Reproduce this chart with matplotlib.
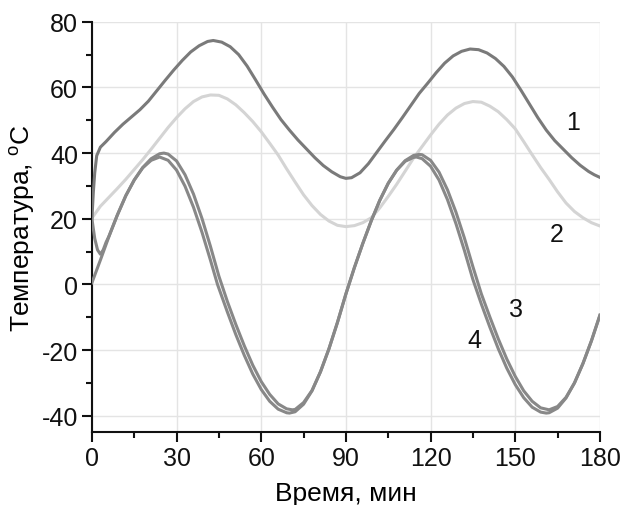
import matplotlib
matplotlib.use("Agg")
import matplotlib.pyplot as plt
from matplotlib.ticker import MultipleLocator

plt.rcParams['font.family'] = ['Liberation Sans', 'DejaVu Sans']
plt.rcParams['mathtext.fontset'] = 'custom'
plt.rcParams['mathtext.rm'] = 'Liberation Sans'
plt.rcParams['axes.unicode_minus'] = False

# curve 1
t1 = [0, 0.5, 1, 1.7, 3, 5, 8, 11, 14, 17, 20, 23, 26, 29, 32, 35, 38, 41, 43, 46, 49, 52,
      55, 58, 61, 64, 67, 70, 73, 76, 79, 82, 85, 88, 90, 92, 95, 98, 101, 104, 107, 110,
      113, 116, 119, 122, 125, 128, 131, 134, 137, 140, 143, 146, 149, 152, 155, 158, 161,
      164, 167, 170, 173, 176, 178, 180]
T1 = [20, 28, 34, 39.2, 41.8, 43.5, 46.3, 48.8, 51, 53.2, 55.8, 59, 62.2, 65.3, 68.2, 70.8,
      72.7, 74, 74.3, 73.8, 72.4, 70, 66.5, 62.3, 58, 54, 50.2, 47, 44, 41.3, 38.6, 36.2,
      34.3, 32.8, 32.3, 32.5, 34, 36.8, 40.3, 43.8, 47.2, 50.8, 54.5, 58.2, 61.3, 64.5, 67.4,
      69.6, 71, 71.7, 71.5, 70.5, 68.8, 66.4, 63.2, 59.2, 55, 50.8, 47, 43.8, 41.2, 38.6,
      36.3, 34.4, 33.4, 32.6]

# curve 2
t2 = [0, 3, 6, 9, 12, 15, 18, 21, 24, 27, 30, 33, 36, 39, 42, 45, 48, 51, 54, 57, 60, 63,
      66, 69, 72, 75, 78, 81, 84, 87, 90, 93, 96, 99, 102, 105, 108, 111, 114, 117, 120,
      123, 126, 129, 132, 135, 138, 141, 144, 147, 150, 153, 156, 159, 162, 165, 168, 171,
      174, 177, 180]
T2 = [20.2, 23.8, 26.5, 29.2, 32, 35, 38, 41.2, 44.5, 47.8, 50.8, 53.5, 55.7, 57.1, 57.7,
      57.6, 56.5, 54.7, 52.3, 49.6, 46.5, 43, 39.4, 35.2, 31.2, 27.3, 24, 21.3, 19.3, 18,
      17.6, 17.9, 18.8, 20.3, 23.3, 26.8, 30.5, 34.5, 38.5, 42, 45.5, 48.8, 51.6, 53.7,
      55.1, 55.7, 55.5, 54.3, 52.6, 50.2, 47.4, 43.5, 39.5, 35.6, 32, 28.2, 24.8, 22.2,
      20.3, 18.8, 17.8]

# curve 3
t3 = [0, 1, 2, 3, 4, 5, 6, 9, 12, 15, 18, 21, 24, 25.5, 27, 30, 33, 36, 39, 42, 45, 48,
      51, 54, 57, 60, 63, 66, 69, 71, 72, 75, 78, 81, 84, 87, 90, 93, 96, 99, 102, 105, 108,
      111, 114, 116, 117, 120, 123, 126, 129, 132, 135, 138, 141, 144, 147, 150, 153, 156,
      159, 162, 165, 168, 171, 174, 177, 180]
T3 = [20, 14, 10.5, 9.2, 10.5, 12.8, 14.6, 21.1, 27, 31.8, 35.6, 38.3, 39.8, 40, 39.7, 37.6,
      33.4, 27.5, 20.1, 11.6, 2.5, -5.2, -12.2, -18.7, -24.6, -29.6, -33.5, -36.4, -37.9,
      -38.2, -38.1, -36, -32.3, -26.6, -19.6, -11.6, -2.9, 5.1, 12.5, 19.4, 25.6, 30.8,
      34.8, 37.7, 39.3, 39.6, 39.5, 37.8, 34.2, 28.8, 22, 14.1, 5.4, -2.9, -9.9, -16.6,
      -22.7, -28, -32.4, -35.6, -37.6, -38.2, -37.2, -34.4, -30, -24.1, -17.2, -9.4]

# curve 4
t4 = [0, 3, 6, 9, 12, 15, 18, 21, 24, 27, 30, 33, 36, 39, 42, 44.5, 48, 51, 54, 57, 60, 63,
      66, 69, 70, 72, 75, 78, 81, 84, 87, 90, 93, 96, 99, 102, 105, 108, 111, 114, 115, 117,
      120, 123, 126, 129, 132, 135, 138, 141, 144, 147, 150, 153, 156, 159, 161, 162, 165,
      168, 171, 174, 177, 180]
T4 = [0.5, 7.4, 14.5, 21.1, 27, 31.8, 35.5, 37.8, 38.8, 37.8, 34.8, 29.9, 23.5, 15.9, 7.4, 0,
      -8.4, -15.3, -21.6, -27.3, -32, -35.6, -38, -39.1, -39.2, -38.8, -36.5, -32.4, -26.6,
      -19.6, -11.6, -2.9, 5.1, 12.5, 19.4, 25.6, 30.8, 34.8, 37.5, 38.7, 38.8, 38.3, 36,
      31.8, 25.8, 18.5, 10.3, 1.5, -6, -13, -19.6, -25.5, -30.5, -34.5, -37.4, -38.9, -39.2,
      -39.1, -37.7, -34.6, -30, -24.1, -17.2, -9.4]

labels = ['1', '2', '3', '4']
label_pos = [(170.4, 49.6), (164.8, 15.3), (150.2, -7.6), (135.4, -16.8)]

fig = plt.figure(figsize=(6.21, 5.06), dpi=100)
ax = fig.add_axes([0.148, 0.144, 0.818, 0.811])

ax.grid(True, color='#e4e4e4', linewidth=1.0, zorder=0)
ax.plot(t2, T2, color='#d4d4d4', linewidth=2.2, zorder=2)
ax.plot(t1, T1, color='#7a7a7a', linewidth=2.2, zorder=3)
ax.plot(t4, T4, color='#888888', linewidth=2.2, zorder=3)
ax.plot(t3, T3, color='#888888', linewidth=2.2, zorder=3)

for lab, (x, y) in zip(labels, label_pos):
    ax.text(x, y, lab, fontsize=18, ha='center', va='center', color='#111111')

ax.set_xlim(0, 180)
ax.set_ylim(-45, 80)
ax.xaxis.set_major_locator(MultipleLocator(30))
ax.xaxis.set_minor_locator(MultipleLocator(15))
ax.yaxis.set_major_locator(MultipleLocator(20))
ax.yaxis.set_minor_locator(MultipleLocator(10))

for s in ['top', 'right']:
    ax.spines[s].set_visible(False)
for s in ['left', 'bottom']:
    ax.spines[s].set_linewidth(1.5)
    ax.spines[s].set_color('#111111')

ax.tick_params(which='major', direction='out', length=7, width=1.5, labelsize=18, pad=3,
               colors='#111111')
ax.tick_params(which='minor', direction='out', length=4, width=1.5, colors='#111111')

ax.set_xlabel('Время, мин', fontsize=19, labelpad=8)
ax.set_ylabel('Температура, $^{\\mathrm{o}}$C', fontsize=19, labelpad=3)

fig.savefig('out.png', dpi=100)
